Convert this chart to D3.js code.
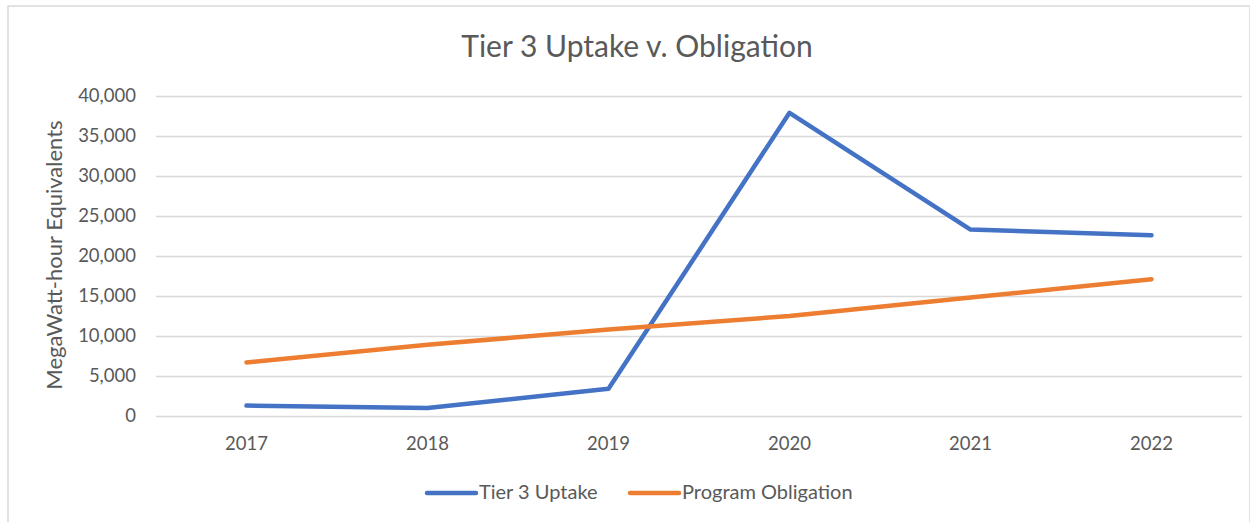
<!DOCTYPE html>
<html lang="en">
<head>
  <meta charset="UTF-8">
  <title>Tier 3 Uptake v. Obligation</title>
  <script src="https://d3js.org/d3.v7.min.js"></script>
  <style>
    body { margin: 0; background: #fff; font-family: Lato, "Open Sans", sans-serif; }
    .tick text { fill: #595959; font-family: Lato, sans-serif; font-size: 18.5px; }
  </style>
</head>
<body>
  <div id="chart"></div>
  <script>
    // Data
    const years = ["2017", "2018", "2019", "2020", "2021", "2022"];
    const uptake = [1300, 1000, 3400, 37900, 23300, 22600];
    const obligation = [6700, 8900, 10800, 12500, 14800, 17100];
    const yTicks = [0, 5000, 10000, 15000, 20000, 25000, 30000, 35000, 40000];
    const seriesNames = ["Tier 3 Uptake", "Program Obligation"];
    const colors = ["#4472C4", "#ED7D31"];

    const W = 1250, H = 522;
    const margin = { top: 96, right: 8, bottom: 106, left: 156 };
    const width = W - margin.left - margin.right,
          height = H - margin.top - margin.bottom;

    const svg = d3.select("#chart").append("svg")
      .attr("width", W).attr("height", H);

    // chart border
    svg.append("rect")
      .attr("x", 8).attr("y", 6)
      .attr("width", W - 8).attr("height", H - 4)
      .attr("fill", "none").attr("stroke", "#D9D9D9").attr("stroke-width", 1.5);

    const g = svg.append("g").attr("transform", `translate(${margin.left},${margin.top})`);

    const x = d3.scaleBand().domain(years).range([0, width]);
    const y = d3.scaleLinear().domain([0, 40000]).range([height, 0]);

    // gridlines + y axis
    const yAxis = g.append("g")
      .call(d3.axisLeft(y).tickValues(yTicks).tickFormat(d3.format(",")).tickSize(-width).tickPadding(20));
    yAxis.select(".domain").remove();
    yAxis.selectAll(".tick line").attr("stroke", "#D9D9D9").attr("stroke-width", 1.5);

    // x axis
    const xAxis = g.append("g")
      .attr("transform", `translate(0,${height})`)
      .call(d3.axisBottom(x).tickSize(0).tickPadding(21));
    xAxis.select(".domain").remove();

    // lines
    const line = d3.line()
      .x((d, i) => x(years[i]) + x.bandwidth() / 2)
      .y(d => y(d));

    [uptake, obligation].forEach((s, i) => {
      g.append("path")
        .datum(s)
        .attr("fill", "none")
        .attr("stroke", colors[i])
        .attr("stroke-width", 4.5)
        .attr("stroke-linejoin", "round")
        .attr("stroke-linecap", "round")
        .attr("d", line);
    });

    // title
    svg.append("text")
      .attr("x", 637).attr("y", 57)
      .attr("text-anchor", "middle")
      .attr("fill", "#595959")
      .style("font-size", "30px")
      .text("Tier 3 Uptake v. Obligation");

    // y-axis label
    svg.append("text")
      .attr("transform", "rotate(-90)")
      .attr("x", -255).attr("y", 62)
      .attr("text-anchor", "middle")
      .attr("fill", "#595959")
      .style("font-size", "22px")
      .text("MegaWatt-hour Equivalents");

    // legend
    const legendX = [427, 630];
    seriesNames.forEach((name, i) => {
      svg.append("line")
        .attr("x1", legendX[i]).attr("x2", legendX[i] + 49)
        .attr("y1", 493).attr("y2", 493)
        .attr("stroke", colors[i]).attr("stroke-width", 4.5)
        .attr("stroke-linecap", "round");
      svg.append("text")
        .attr("x", legendX[i] + 52).attr("y", 499)
        .attr("fill", "#595959")
        .style("font-size", "20px")
        .text(name);
    });
  </script>
</body>
</html>
